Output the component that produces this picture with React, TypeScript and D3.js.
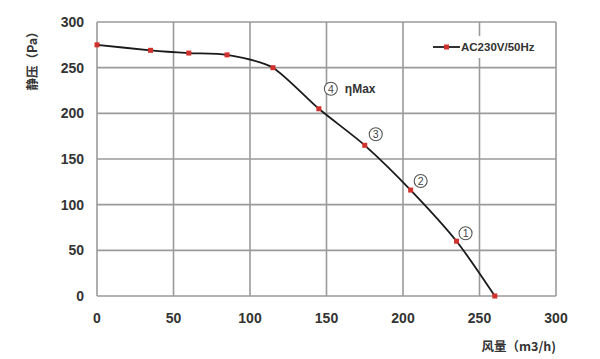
import React from "react";
import * as d3 from "d3";

const flow = [0, 35, 60, 85, 115, 145, 175, 205, 235, 260];
const pressure = [275, 269, 266, 264, 250, 205, 165, 116, 60, 0];
const xTicks = [0, 50, 100, 150, 200, 250, 300];
const yTicks = [0, 50, 100, 150, 200, 250, 300];
const annotations = [
  { label: "4", extra: "ηMax", x: 145, y: 205, dx: 12, dy: -20 },
  { label: "3", extra: "", x: 175, y: 165, dx: 11, dy: -11 },
  { label: "2", extra: "", x: 205, y: 116, dx: 10, dy: -9 },
  { label: "1", extra: "", x: 235, y: 60, dx: 9, dy: -8 },
];
const legendLabel = "AC230V/50Hz";
const xTitle = "风量（m3/h)";
const yTitle = "静压（Pa）";

const W = 600, H = 359;
const left = 97, right = 556, top = 22, bottom = 296;

export default function App() {
  const x = d3.scaleLinear().domain([0, 300]).range([left, right]);
  const y = d3.scaleLinear().domain([0, 300]).range([bottom, top]);
  const pts = flow.map((f, i) => [f, pressure[i]] as [number, number]);
  const line = d3
    .line<[number, number]>()
    .x((d) => x(d[0]))
    .y((d) => y(d[1]))
    .curve(d3.curveCardinal.tension(0.3));
  const font = "'Liberation Sans', Arial, sans-serif";
  const grid = "#9a9a9a";
  return (
    <svg width={W} height={H} style={{ position: "absolute", left: 0, top: 0, background: "#fff" }} fontFamily={font}>
      <rect x={0} y={0} width={W} height={H} fill="#fff" />
      {xTicks.map((t) => (
        <line key={"gx" + t} x1={x(t)} x2={x(t)} y1={top} y2={bottom} stroke={grid} strokeWidth={1.6} />
      ))}
      {yTicks.map((t) => (
        <line key={"gy" + t} x1={left} x2={right} y1={y(t)} y2={y(t)} stroke={grid} strokeWidth={1.6} />
      ))}
      <rect x={428} y={36} width={122} height={22} fill="#fff" />
      {xTicks.map((t) => (
        <text key={"xt" + t} x={x(t)} y={323} textAnchor="middle" fontSize={14} fontWeight="bold" fill="#333">
          {t}
        </text>
      ))}
      {yTicks.map((t) => (
        <text key={"yt" + t} x={84} y={y(t) + 5} textAnchor="end" fontSize={14} fontWeight="bold" fill="#333">
          {t}
        </text>
      ))}
      <path d={line(pts) || ""} fill="none" stroke="#1a1a1a" strokeWidth={1.8} />
      {pts.map((d, i) => (
        <rect key={"m" + i} x={x(d[0]) - 2.5} y={y(d[1]) - 2.5} width={5} height={5} fill="#d0312d" />
      ))}
      {annotations.map((a, i) => (
        <g key={"a" + i}>
          <circle cx={x(a.x) + a.dx} cy={y(a.y) + a.dy} r={6.5} fill="#fff" stroke="#555" strokeWidth={1.1} />
          <text x={x(a.x) + a.dx} y={y(a.y) + a.dy + 3.8} textAnchor="middle" fontSize={10.5} fill="#444">
            {a.label}
          </text>
          {a.extra && (
            <text x={x(a.x) + a.dx + 14} y={y(a.y) + a.dy + 4.5} fontSize={12} fontWeight="bold" fill="#333">
              {a.extra}
            </text>
          )}
        </g>
      ))}
      <line x1={433} x2={460} y1={47} y2={47} stroke="#1a1a1a" strokeWidth={1.8} />
      <rect x={444} y={44.5} width={5} height={5} fill="#d0312d" />
      <text x={461} y={51} fontSize={11.5} fontWeight="bold" fill="#333">
        {legendLabel}
      </text>
      <text x={556} y={351} textAnchor="end" fontSize={12.5} fontWeight="bold" fill="#333" fontFamily="'Noto Sans CJK SC', sans-serif">
        {xTitle}
      </text>
      <text
        transform={`translate(37,58) rotate(-90)`}
        textAnchor="middle"
        fontSize={12.5}
        fontWeight="bold"
        fill="#333"
        fontFamily="'Noto Sans CJK SC', sans-serif"
      >
        {yTitle}
      </text>
    </svg>
  );
}
